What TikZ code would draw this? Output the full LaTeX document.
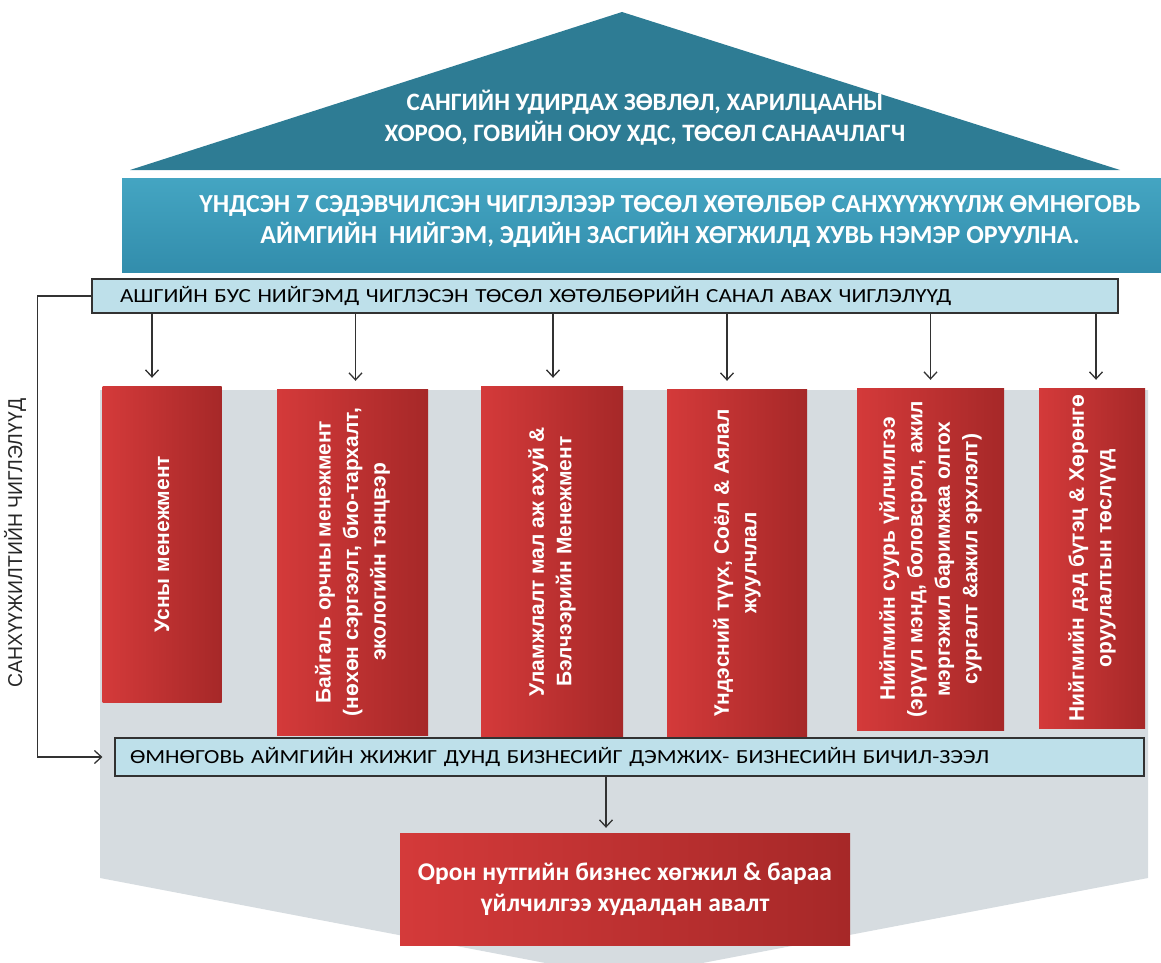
\documentclass[tikz,border=0pt]{standalone}
\usepackage{fontspec}
\setmainfont{Liberation Sans}
\newfontfamily\headfont{Carlito}
\newfontfamily\boxfont[FakeStretch=1.16]{Carlito}
\newfontfamily\redfont{Liberation Sans}
\newfontfamily\sidefont[FakeStretch=0.97]{Liberation Sans}
\usetikzlibrary{arrows.meta,positioning,calc}
\definecolor{roofteal}{RGB}{46,124,148}
\definecolor{bandtop}{RGB}{68,165,194}
\definecolor{bandbot}{RGB}{50,141,172}
\definecolor{paleblue}{RGB}{190,224,234}
\definecolor{backgray}{RGB}{214,220,224}
\definecolor{redlight}{RGB}{212,58,58}
\definecolor{reddark}{RGB}{166,40,40}
\definecolor{linegray}{RGB}{50,50,50}
\begin{document}
\begin{tikzpicture}[x=1pt,y=-1pt,every node/.style={inner sep=0pt,align=center},
  bluebox/.style={draw=linegray,line width=1.2pt,fill=paleblue,align=left,font=\boxfont\fontsize{20}{24}\selectfont},
  redbox/.style={rotate=90,left color=redlight,right color=reddark,text=white,font=\redfont\bfseries\fontsize{21}{27.5}\selectfont},
  arr/.style={draw=linegray,line width=1.3pt,-{Straight Barb[length=7pt,width=13pt]}}]
\useasboundingbox (0,0) rectangle (1161,963);
% grey backdrop with the downward point
\fill[backgray] (100,390) -- (1148,390) -- (1148,878) -- (624,978) -- (100,878) -- cycle;
% roof
\fill[roofteal] (130,170) -- (622,12) -- (1120,170) -- cycle;
\node[text=white,font=\headfont\bfseries\fontsize{25}{31}\selectfont] (roof) at (645,118)
  {САНГИЙН УДИРДАХ ЗӨВЛӨЛ, ХАРИЛЦААНЫ\\ХОРОО, ГОВИЙН ОЮУ ХДС, ТӨСӨЛ САНААЧЛАГЧ};
\node[top color=bandtop,bottom color=bandbot,minimum width=1039,minimum height=94] (band) at (641.5,225) {};
\node[text=white,font=\headfont\bfseries\fontsize{26}{31}\selectfont] (goal) at (670,221)
  {ҮНДСЭН 7 СЭДЭВЧИЛСЭН ЧИГЛЭЛЭЭР ТӨСӨЛ ХӨТӨЛБӨР САНХҮҮЖҮҮЛЖ ӨМНӨГОВЬ\\АЙМГИЙН\ \ НИЙГЭМ, ЭДИЙН ЗАСГИЙН ХӨГЖИЛД ХУВЬ НЭМЭР ОРУУЛНА.};
% proposal directions
\node[bluebox,minimum width=1026,minimum height=34,text width=970] (ask) at (605,296)
  {АШГИЙН БУС НИЙГЭМД ЧИГЛЭСЭН ТӨСӨЛ ХӨТӨЛБӨРИЙН САНАЛ АВАХ ЧИГЛЭЛҮҮД};
% the seven themes (six boxes)
\node[redbox,minimum width=316,minimum height=119] (rb1) at (162,544) {Усны менежмент};
\node[redbox,minimum width=346,minimum height=151] (rb2) at (352.5,562)
  {Байгаль орчны менежмент\\(нөхөн сэргээлт, био-тархалт,\\экологийн тэнцвэр};
\node[redbox,minimum width=351,minimum height=142] (rb3) at (552,561.5)
  {Уламжлалт мал аж ахуй \&\\Бэлчээрийн Менежмент};
\node[redbox,minimum width=348,minimum height=140] (rb4) at (737,563)
  {Үндэсний түүх, Соёл \& Аялал\\жуулчлал};
\node[redbox,minimum width=342,minimum height=147] (rb5) at (930.5,559)
  {Нийгмийн суурь үйлчилгээ\\(эрүүл мэнд, боловсрол, ажил\\мэргэжил баримжаа олгох\\сургалт \&ажил эрхлэлт)};
\node[redbox,minimum width=340,minimum height=106] (rb6) at (1092,558)
  {Нийгмийн дэд бүтэц \& Хөрөнгө\\оруулалтын төслүүд};
\foreach \b/\dx in {rb1/-10,rb2/3,rb3/1,rb4/-10,rb5/0,rb6/4}
  \draw[arr,shorten >=8pt] ([xshift=\dx pt]ask.south -| \b.east) -- ([xshift=\dx pt]\b.east);
% micro loans
\node[bluebox,minimum width=1029,minimum height=38,text width=999] (fin) at (629.5,757)
  {ӨМНӨГОВЬ АЙМГИЙН ЖИЖИГ ДУНД БИЗНЕСИЙГ ДЭМЖИХ- БИЗНЕСИЙН БИЧИЛ-ЗЭЭЛ};
\node[left color=redlight,right color=reddark,minimum width=450,minimum height=112,text=white,
  font=\headfont\bfseries\fontsize{25.5}{31}\selectfont] (local) at (625,889)
  {Орон нутгийн бизнес хөгжил \& бараа\\үйлчилгээ худалдан авалт};
\draw[arr,shorten >=5pt] ([xshift=-19pt]fin.south -| local.north) -- ([xshift=-19pt]local.north);
% funding bracket
\draw[arr,shorten >=12pt] (ask.west) -- ++(-54,0) |- (fin.west);
\node[rotate=90,font=\sidefont\fontsize{20}{24}\selectfont,text=black!85] (side) at (15,543)
  {САНХҮҮЖИЛТИЙН ЧИГЛЭЛҮҮД};
\end{tikzpicture}
\end{document}
